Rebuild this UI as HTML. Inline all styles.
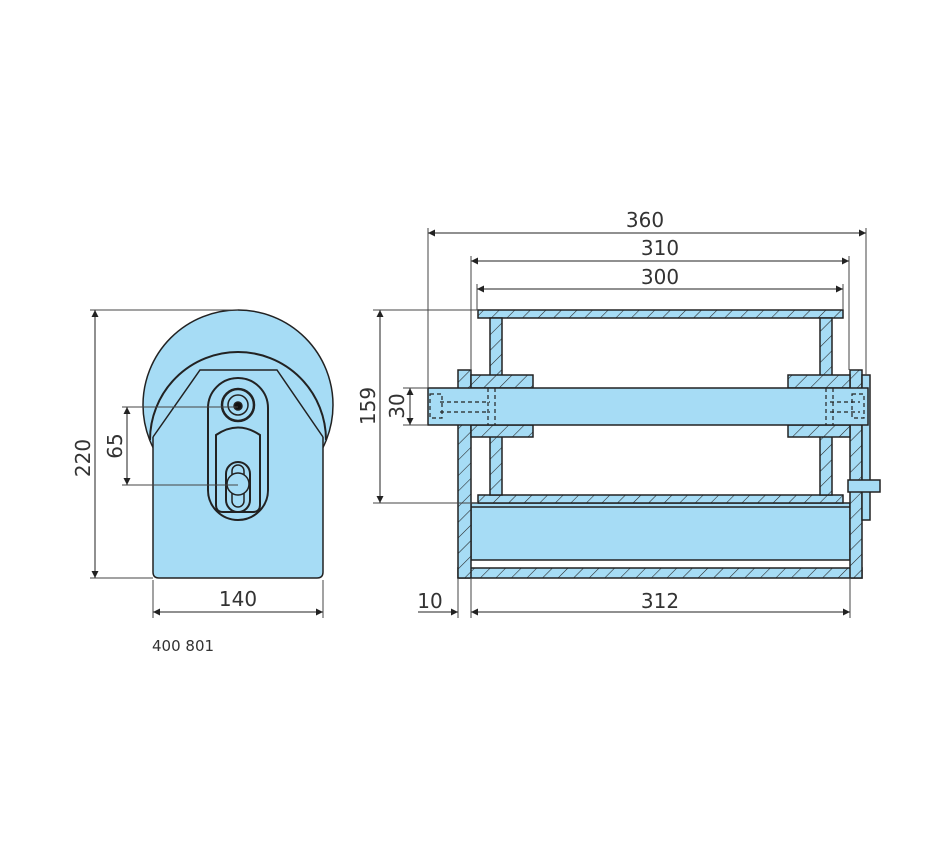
<!DOCTYPE html>
<html><head><meta charset="utf-8"><style>
body{margin:0;background:#fff}
svg{display:block}
text{font-family:"DejaVu Sans","Liberation Sans",sans-serif;font-size:20px;fill:#333}
</style></head><body>
<svg width="950" height="860" viewBox="0 0 950 860" xmlns="http://www.w3.org/2000/svg">
<defs>
<pattern id="h" width="11" height="11" patternUnits="userSpaceOnUse" patternTransform="rotate(45)">
<rect width="11" height="11" fill="#a6dcf5"/><line x1="0" y1="0" x2="0" y2="11" stroke="#222" stroke-width="1.1"/>
</pattern>
<marker id="a" viewBox="0 0 10 10" refX="10" refY="5" markerWidth="10" markerHeight="7" orient="auto-start-reverse" markerUnits="userSpaceOnUse"><path d="M0,0L10,5L0,10z" fill="#222"/></marker>
</defs>
<g stroke="#222" fill="#a6dcf5" stroke-width="1.5">
<circle cx="238" cy="405" r="95"/>
<path d="M153,437 L153,572 Q153,578 159,578 L317,578 Q323,578 323,572 L323,437 Z" stroke="none"/>
<path d="M153,437 L153,572 Q153,578 159,578 L317,578 Q323,578 323,572 L323,437"/>
<path d="M150,440 A88,88 0 1 1 326,440" fill="none" stroke-width="2"/>
<path d="M153,437 L200,370 L277,370 L323,437" fill="none"/>
<rect x="208" y="378" width="60" height="142" rx="30" stroke-width="2"/>
<path d="M216,435 Q238,420 260,435 L260,505 Q260,512 253,512 L223,512 Q216,512 216,505Z" fill="none" stroke-width="2"/>
<circle cx="238" cy="405" r="16" stroke-width="2.5"/>
<circle cx="238" cy="405" r="10"/>
<circle cx="238" cy="406" r="4" fill="#111"/>
<rect x="226" y="462" width="24" height="50" rx="12" stroke-width="2"/>
<rect x="232" y="465" width="12" height="42" rx="6"/>
<circle cx="238" cy="484" r="11"/>
<rect x="471" y="503" width="379" height="57"/>
<line x1="471" y1="507" x2="850" y2="507"/>
<rect x="458" y="568" width="404" height="10" fill="url(#h)"/>
<rect x="458" y="370" width="13" height="208" fill="url(#h)"/>
<rect x="850" y="370" width="12" height="208" fill="url(#h)"/>
<rect x="862" y="375" width="8" height="145"/>
<rect x="478" y="310" width="365" height="8" fill="url(#h)"/>
<rect x="478" y="495" width="365" height="8" fill="url(#h)"/>
<rect x="490" y="318" width="12" height="177" fill="url(#h)"/>
<rect x="820" y="318" width="12" height="177" fill="url(#h)"/>
<rect x="471" y="375" width="62" height="13" fill="url(#h)"/>
<rect x="471" y="425" width="62" height="12" fill="url(#h)"/>
<rect x="788" y="375" width="62" height="13" fill="url(#h)"/>
<rect x="788" y="425" width="62" height="12" fill="url(#h)"/>
<rect x="428" y="388" width="440" height="37"/>
<rect x="848" y="480" width="32" height="12"/>
<g fill="none" stroke-dasharray="4,3" stroke-width="1.2">
<rect x="430" y="394" width="12" height="24"/><path d="M440,402 H490 M440,412 H490 M488,388 V425 M495,388 V425"/>
<rect x="852" y="394" width="12" height="24"/><path d="M830,402 H860 M830,412 H860 M826,388 V425 M833,388 V425"/>
</g>
</g>
<g stroke="#444" stroke-width="1" fill="none">
<path d="M90,310 H238 M90,578 H153 M122,407 H238 M122,485 H238 M153,580 V618 M323,580 V618"/>
<path d="M373,310 H478 M373,503 H478 M403,388 H428 M403,425 H428"/>
<path d="M428,228 V388 M866,228 V375 M471,256 V370 M849,256 V370 M477,284 V310 M843,284 V310 M458,578 V618 M471,578 V618 M850,578 V618"/>
<g marker-start="url(#a)" marker-end="url(#a)" stroke="#222">
<line x1="95" y1="310" x2="95" y2="578"/>
<line x1="127" y1="407" x2="127" y2="485"/>
<line x1="153" y1="612" x2="323" y2="612"/>
<line x1="380" y1="310" x2="380" y2="503"/>
<line x1="410" y1="388" x2="410" y2="425"/>
<line x1="428" y1="233" x2="866" y2="233"/>
<line x1="471" y1="261" x2="849" y2="261"/>
<line x1="477" y1="289" x2="843" y2="289"/>
<line x1="471" y1="612" x2="850" y2="612"/>
</g>
<line x1="418" y1="612" x2="458" y2="612" marker-end="url(#a)" stroke="#222"/>
</g>
<text x="645" y="227" text-anchor="middle">360</text>
<text x="660" y="255" text-anchor="middle">310</text>
<text x="660" y="284" text-anchor="middle">300</text>
<text x="238" y="606" text-anchor="middle">140</text>
<text x="660" y="608" text-anchor="middle">312</text>
<text x="430" y="608" text-anchor="middle">10</text>
<text transform="translate(90,458) rotate(-90)" text-anchor="middle">220</text>
<text transform="translate(122,446) rotate(-90)" text-anchor="middle">65</text>
<text transform="translate(375,406) rotate(-90)" text-anchor="middle">159</text>
<text transform="translate(404,406) rotate(-90)" text-anchor="middle">30</text>
<text x="152" y="651" style="font-size:15px">400 801</text>
</svg>
</body></html>
